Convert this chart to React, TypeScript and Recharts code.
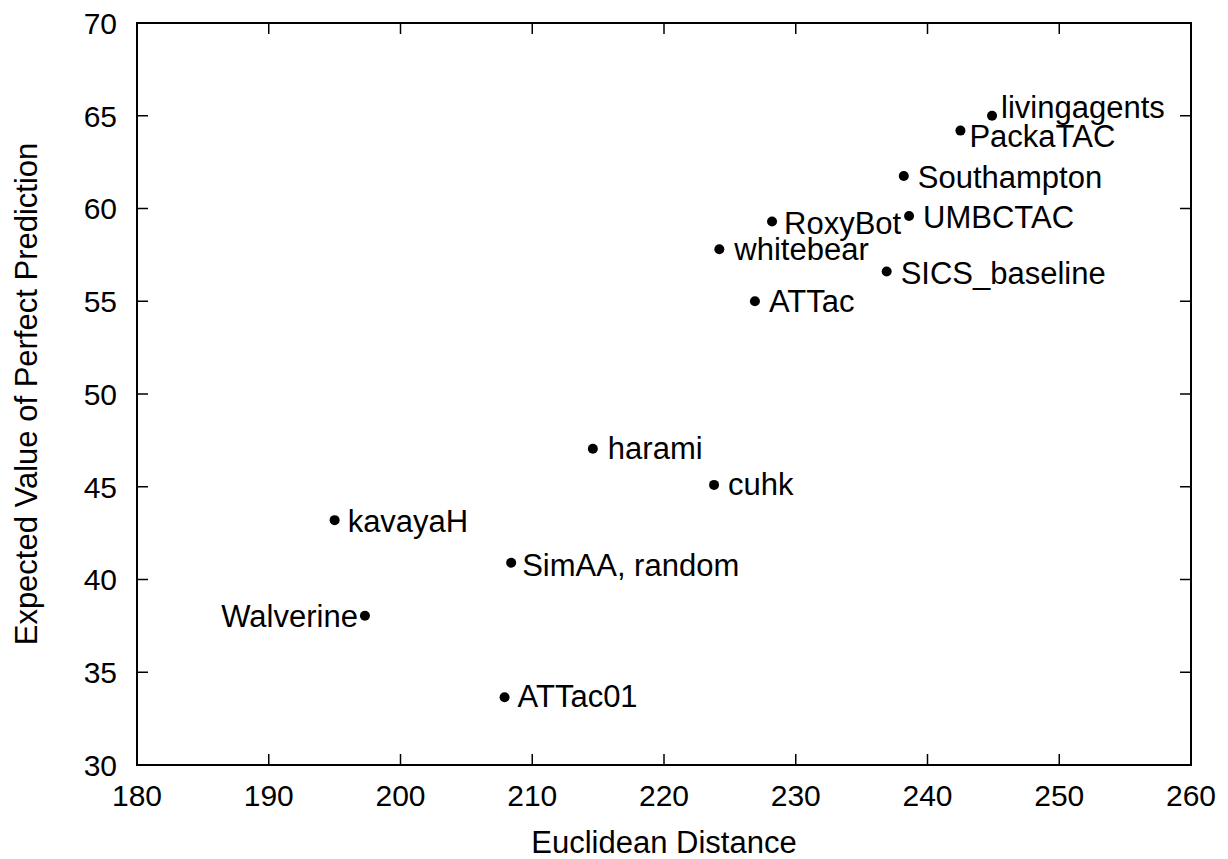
import React from 'react';
import { ScatterChart, Scatter, XAxis, YAxis, Label, ReferenceArea } from 'recharts';

const agentNames = [
  'livingagents',
  'PackaTAC',
  'Southampton',
  'UMBCTAC',
  'RoxyBot',
  'whitebear',
  'SICS_baseline',
  'ATTac',
  'harami',
  'cuhk',
  'kavayaH',
  'SimAA, random',
  'Walverine',
  'ATTac01',
];
const euclideanDistance = [244.9, 242.5, 238.2, 238.6, 228.2, 224.2, 236.9, 226.9, 214.6, 223.8, 195.0, 208.4, 197.3, 207.9];
const expectedValue = [65.0, 64.2, 61.75, 59.6, 59.3, 57.8, 56.6, 55.0, 47.05, 45.1, 43.2, 40.9, 38.05, 33.65];
const xTicks = [180, 190, 200, 210, 220, 230, 240, 250, 260];
const yTicks = [30, 35, 40, 45, 50, 55, 60, 65, 70];

const data = agentNames.map((name, i) => ({ name, x: euclideanDistance[i], y: expectedValue[i] }));

const FONT = '"Liberation Sans", Arial, Helvetica, sans-serif';
const FS = 31;
const TICK_FS = 30;

const CHART_W = 1228;
const CHART_H = 859;
const MARGIN = { top: 23, right: 37, bottom: 0, left: 0 };
const Y_AXIS_W = 137;
const X_AXIS_H = 94;
const PLOT_W = CHART_W - MARGIN.left - MARGIN.right - Y_AXIS_W;
const PLOT_H = CHART_H - MARGIN.top - MARGIN.bottom - X_AXIS_H;
const TICK_LEN = 11;

// label placement relative to the dot (style only): [dx, dy]
const labelOffsets: Record<string, [number, number]> = {
  livingagents: [9, -9],
  PackaTAC: [9, 5],
  Southampton: [14, 1],
  UMBCTAC: [14, 1],
  RoxyBot: [12, 1],
  whitebear: [15, 0],
  SICS_baseline: [14, 1],
  ATTac: [14, 0],
  harami: [15, -1],
  cuhk: [14, -1],
  kavayaH: [13, 1],
  'SimAA, random': [11, 2],
  Walverine: [-7, 0],
  ATTac01: [13, -1],
};

const Dot = (props: any) => {
  const { cx, cy, payload } = props;
  const [dx, dy] = labelOffsets[payload.name] ?? [13, 0];
  return (
    <g>
      <circle cx={cx} cy={cy} r={5} fill="#000" />
      <text
        x={cx + dx}
        y={cy + dy}
        dy="0.36em"
        textAnchor={dx < 0 ? 'end' : 'start'}
        fontSize={FS}
        fontFamily={FONT}
        fill="#000"
      >
        {payload.name}
      </text>
    </g>
  );
};

const XTick = (props: any) => {
  const { x, y, payload } = props;
  return (
    <g>
      <line x1={x} y1={y} x2={x} y2={y - TICK_LEN} stroke="#000" strokeWidth={1.5} />
      <line x1={x} y1={y - PLOT_H} x2={x} y2={y - PLOT_H + TICK_LEN} stroke="#000" strokeWidth={1.5} />
      <text x={x} y={y + 20} dy="0.71em" textAnchor="middle" fontSize={TICK_FS} fontFamily={FONT} fill="#000">
        {payload.value}
      </text>
    </g>
  );
};

const YTick = (props: any) => {
  const { x, y, payload } = props;
  return (
    <g>
      <line x1={x} y1={y} x2={x + TICK_LEN} y2={y} stroke="#000" strokeWidth={1.5} />
      <line x1={x + PLOT_W} y1={y} x2={x + PLOT_W - TICK_LEN} y2={y} stroke="#000" strokeWidth={1.5} />
      <text x={x - 20} y={y} dy="0.36em" textAnchor="end" fontSize={TICK_FS} fontFamily={FONT} fill="#000">
        {payload.value}
      </text>
    </g>
  );
};

const YTitle = (props: any) => {
  const vb = props.viewBox || { x: 0, y: 0, width: 0, height: 0 };
  const x = vb.x + 37;
  const y = vb.y + vb.height / 2;
  return (
    <text
      x={x}
      y={y}
      transform={`rotate(-90, ${x}, ${y})`}
      textAnchor="middle"
      fontSize={FS}
      fontFamily={FONT}
      fill="#000"
    >
      Expected Value of Perfect Prediction
    </text>
  );
};

const XTitle = (props: any) => {
  const vb = props.viewBox || { x: 0, y: 0, width: 0, height: 0 };
  const x = vb.x + vb.width / 2;
  const y = vb.y + 88;
  return (
    <text x={x} y={y} textAnchor="middle" fontSize={FS} fontFamily={FONT} fill="#000">
      Euclidean Distance
    </text>
  );
};

export default function App() {
  return (
    <div style={{ position: 'absolute', left: 0, top: 0, width: CHART_W, height: CHART_H, background: '#fff' }}>
      <ScatterChart width={CHART_W} height={CHART_H} margin={MARGIN}>
        <XAxis
          xAxisId="b"
          type="number"
          dataKey="x"
          orientation="bottom"
          domain={[180, 260]}
          ticks={xTicks}
          allowDataOverflow
          height={X_AXIS_H}
          tickSize={0}
          tickMargin={0}
          tickLine={false}
          axisLine={false}
          tick={XTick}
          interval={0}
        >
          <Label content={XTitle} />
        </XAxis>
        <YAxis
          yAxisId="l"
          type="number"
          dataKey="y"
          orientation="left"
          domain={[30, 70]}
          ticks={yTicks}
          allowDataOverflow
          width={Y_AXIS_W}
          tickSize={0}
          tickMargin={0}
          tickLine={false}
          axisLine={false}
          tick={YTick}
          interval={0}
        >
          <Label content={YTitle} />
        </YAxis>
        <ReferenceArea
          xAxisId="b"
          yAxisId="l"
          x1={180}
          x2={260}
          y1={30}
          y2={70}
          fill="none"
          fillOpacity={0}
          stroke="#000"
          strokeWidth={2}
          ifOverflow="visible"
        />
        <Scatter data={data} xAxisId="b" yAxisId="l" shape={Dot} isAnimationActive={false} />
      </ScatterChart>
    </div>
  );
}
